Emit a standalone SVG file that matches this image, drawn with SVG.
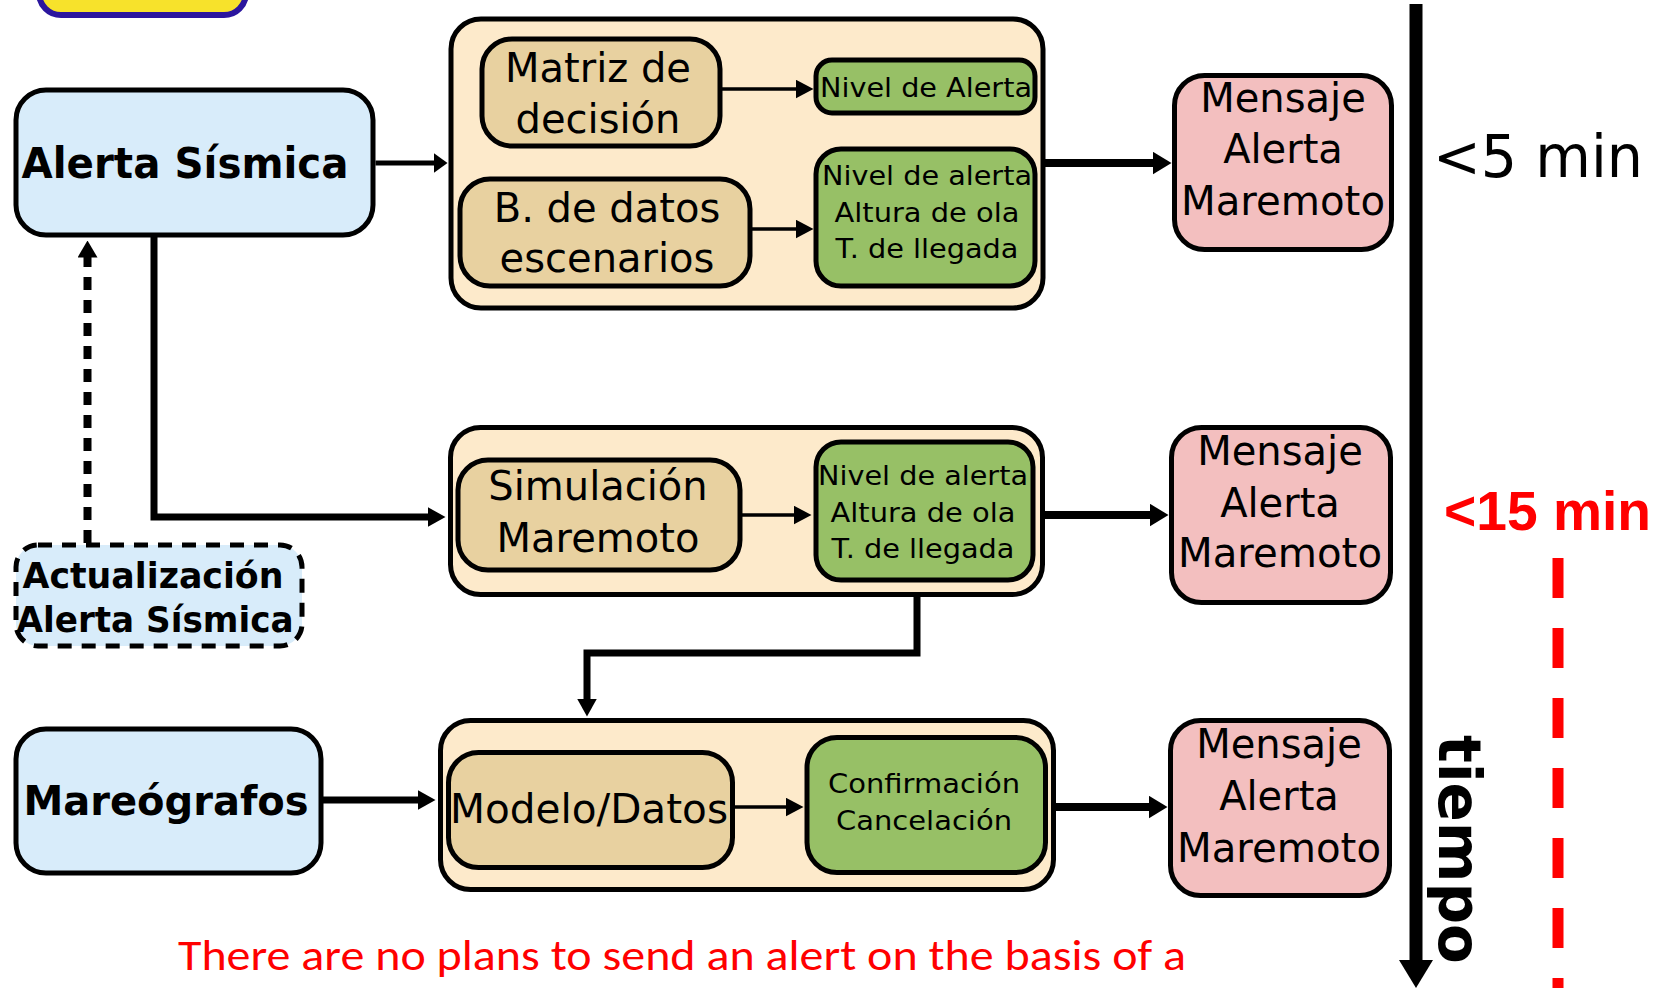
<svg xmlns="http://www.w3.org/2000/svg" width="1668" height="988" viewBox="0 0 1668 988">
<style>
.box{stroke:#000;stroke-width:5}
.blue{fill:#d8ecfa}
.cont{fill:#fdeacb}
.tan{fill:#e8d1a0}
.green{fill:#97c066}
.pink{fill:#f3bfbf}
text{font-family:"DejaVu Sans","Liberation Sans",sans-serif;fill:#000}
.b{font-weight:bold}
.c{text-anchor:middle}
.t40{font-size:40px}
.t26{font-size:26px}
.conn{fill:none;stroke:#000}
</style>
<defs>
<marker id="mThin" markerUnits="userSpaceOnUse" viewBox="0 0 18 19" markerWidth="18" markerHeight="19" refX="0.5" refY="9.5" orient="auto"><path d="M0,0 L18,9.5 L0,19 z"/></marker>
<marker id="mMed" markerUnits="userSpaceOnUse" viewBox="0 0 14 20" markerWidth="14" markerHeight="20" refX="0.5" refY="10" orient="auto"><path d="M0,0 L14,10 L0,20 z"/></marker>
<marker id="mThick" markerUnits="userSpaceOnUse" viewBox="0 0 19 23" markerWidth="19" markerHeight="23" refX="0.5" refY="11.5" orient="auto"><path d="M0,0 L19,11.5 L0,23 z"/></marker>
<marker id="mL" markerUnits="userSpaceOnUse" viewBox="0 0 18 20" markerWidth="18" markerHeight="20" refX="0.5" refY="10" orient="auto"><path d="M0,0 L18,10 L0,20 z"/></marker>
<marker id="mDash" markerUnits="userSpaceOnUse" viewBox="0 0 17 20" markerWidth="17" markerHeight="20" refX="0.5" refY="10" orient="auto"><path d="M0,0 L17,10 L0,20 z"/></marker>
</defs>

<g id="logo">
<rect x="39" y="-40" width="207" height="55" rx="22" fill="#f7e22b" stroke="#2b169e" stroke-width="6"/>
</g>

<g id="alerta-sismica">
<rect class="box blue" x="16" y="90" width="357" height="145" rx="30"/>
<text class="b c" x="185" y="178" font-size="42" textLength="327" lengthAdjust="spacingAndGlyphs">Alerta Sísmica</text>
</g>

<g id="actualizacion">
<rect class="blue" x="16" y="545" width="286" height="101" rx="22" stroke="#000" stroke-width="5" stroke-dasharray="14 10"/>
<text class="b c" x="153" y="588" font-size="35" textLength="261" lengthAdjust="spacingAndGlyphs">Actualización</text>
<text class="b c" x="155" y="632" font-size="35" textLength="277" lengthAdjust="spacingAndGlyphs">Alerta Sísmica</text>
</g>

<g id="mareografos">
<rect class="box blue" x="16" y="729" width="305" height="144" rx="30"/>
<text class="b c" x="166" y="815" font-size="40">Mareógrafos</text>
</g>

<g id="contenedor-1">
<rect class="box cont" x="451" y="19" width="592" height="289" rx="30"/>
</g>
<g id="matriz">
<rect class="box tan" x="482" y="39" width="238" height="107" rx="30"/>
<text class="c t40" x="598" y="82">Matriz de</text>
<text class="c t40" x="598" y="133">decisión</text>
</g>
<g id="nivel-alerta-1">
<rect class="box green" x="816" y="60" width="219" height="53" rx="16"/>
<text class="c t26" x="926" y="97" textLength="212" lengthAdjust="spacingAndGlyphs">Nivel de Alerta</text>
</g>
<g id="bdatos">
<rect class="box tan" x="460" y="179" width="290" height="107" rx="30"/>
<text class="c t40" x="607" y="222">B. de datos</text>
<text class="c t40" x="607" y="272">escenarios</text>
</g>
<g id="nivel-alerta-2">
<rect class="box green" x="816" y="149" width="219" height="137" rx="25"/>
<text class="c t26" x="927" y="185" textLength="210" lengthAdjust="spacingAndGlyphs">Nivel de alerta</text>
<text class="c t26" x="927" y="222" textLength="185" lengthAdjust="spacingAndGlyphs">Altura de ola</text>
<text class="c t26" x="927" y="258" textLength="183" lengthAdjust="spacingAndGlyphs">T. de llegada</text>
</g>

<g id="contenedor-2">
<rect class="box cont" x="450.5" y="427.5" width="592" height="167" rx="30"/>
</g>
<g id="simulacion">
<rect class="box tan" x="458" y="460" width="282" height="110" rx="30"/>
<text class="c t40" x="598" y="500">Simulación</text>
<text class="c t40" x="598" y="552">Maremoto</text>
</g>
<g id="nivel-alerta-3">
<rect class="box green" x="816" y="442" width="217" height="138" rx="25"/>
<text class="c t26" x="923" y="485" textLength="210" lengthAdjust="spacingAndGlyphs">Nivel de alerta</text>
<text class="c t26" x="923" y="522" textLength="185" lengthAdjust="spacingAndGlyphs">Altura de ola</text>
<text class="c t26" x="923" y="558" textLength="183" lengthAdjust="spacingAndGlyphs">T. de llegada</text>
</g>

<g id="contenedor-3">
<rect class="box cont" x="440.5" y="720.5" width="613" height="169" rx="30"/>
</g>
<g id="modelo">
<rect class="box tan" x="448.5" y="752.5" width="284" height="115" rx="30"/>
<text class="c t40" x="589" y="823" textLength="278" lengthAdjust="spacingAndGlyphs">Modelo/Datos</text>
</g>
<g id="confirmacion">
<rect class="box green" x="807" y="737.5" width="238.5" height="135" rx="30"/>
<text class="c" x="924" y="793" font-size="27" textLength="192" lengthAdjust="spacingAndGlyphs">Confirmación</text>
<text class="c" x="924" y="830" font-size="27" textLength="176" lengthAdjust="spacingAndGlyphs">Cancelación</text>
</g>

<g id="mensaje-1">
<rect class="box pink" x="1174.5" y="75.5" width="217" height="174" rx="30"/>
<text class="c t40" x="1283" y="112">Mensaje</text>
<text class="c t40" x="1283" y="163">Alerta</text>
<text class="c t40" x="1283" y="215" textLength="204" lengthAdjust="spacingAndGlyphs">Maremoto</text>
</g>
<g id="mensaje-2">
<rect class="box pink" x="1171.5" y="427.5" width="219" height="175" rx="30"/>
<text class="c t40" x="1280" y="465">Mensaje</text>
<text class="c t40" x="1280" y="517">Alerta</text>
<text class="c t40" x="1280" y="567" textLength="204" lengthAdjust="spacingAndGlyphs">Maremoto</text>
</g>
<g id="mensaje-3">
<rect class="box pink" x="1170.5" y="720.5" width="219" height="175" rx="30"/>
<text class="c t40" x="1279" y="758">Mensaje</text>
<text class="c t40" x="1279" y="810">Alerta</text>
<text class="c t40" x="1279" y="862" textLength="204" lengthAdjust="spacingAndGlyphs">Maremoto</text>
</g>

<g id="tiempo">
<line x1="1416" y1="4" x2="1416" y2="961" stroke="#000" stroke-width="13"/>
<polygon points="1399,960 1433,960 1416,988" fill="#000"/>
<text class="b" transform="translate(1439,735) rotate(90)" font-size="58">tiempo</text>
<text x="1433" y="177" font-size="58" textLength="210" lengthAdjust="spacingAndGlyphs">&lt;5 min</text>
<text x="1444" y="530" font-size="55" font-weight="bold" style="font-family:'Liberation Sans',Arial,sans-serif;fill:#ff0000" textLength="207" lengthAdjust="spacingAndGlyphs">&lt;15 min</text>
<line x1="1558" y1="558" x2="1558" y2="988" stroke="#ff0000" stroke-width="11" stroke-dasharray="40 30"/>
</g>

<g id="connectors">
<path class="conn" d="M375.5,163 H434" stroke-width="5" marker-end="url(#mMed)"/>
<path class="conn" d="M154,237 V517 H428" stroke-width="7" marker-end="url(#mL)"/>
<path class="conn" d="M87.5,543 V257" stroke-width="8" stroke-dasharray="13 10" marker-end="url(#mDash)"/>
<path class="conn" d="M722,89 H796" stroke-width="3.5" marker-end="url(#mThin)"/>
<path class="conn" d="M752,229 H796" stroke-width="3.5" marker-end="url(#mThin)"/>
<path class="conn" d="M742,515 H794" stroke-width="3.5" marker-end="url(#mThin)"/>
<path class="conn" d="M735,807 H786" stroke-width="3.5" marker-end="url(#mThin)"/>
<path class="conn" d="M1045,163 H1153" stroke-width="8" marker-end="url(#mThick)"/>
<path class="conn" d="M1045,515 H1150" stroke-width="8" marker-end="url(#mThick)"/>
<path class="conn" d="M1056,807 H1149" stroke-width="8" marker-end="url(#mThick)"/>
<path class="conn" d="M323,800 H418" stroke-width="7" marker-end="url(#mL)"/>
<path class="conn" d="M917,597 V653 H587 V699" stroke-width="7" marker-end="url(#mL)"/>
</g>

<text x="178" y="970" font-size="44" style="font-family:Carlito,Lato,'Liberation Sans',sans-serif;fill:#ff0000" textLength="1008" lengthAdjust="spacingAndGlyphs">There are no plans to send an alert on the basis of a</text>
</svg>
